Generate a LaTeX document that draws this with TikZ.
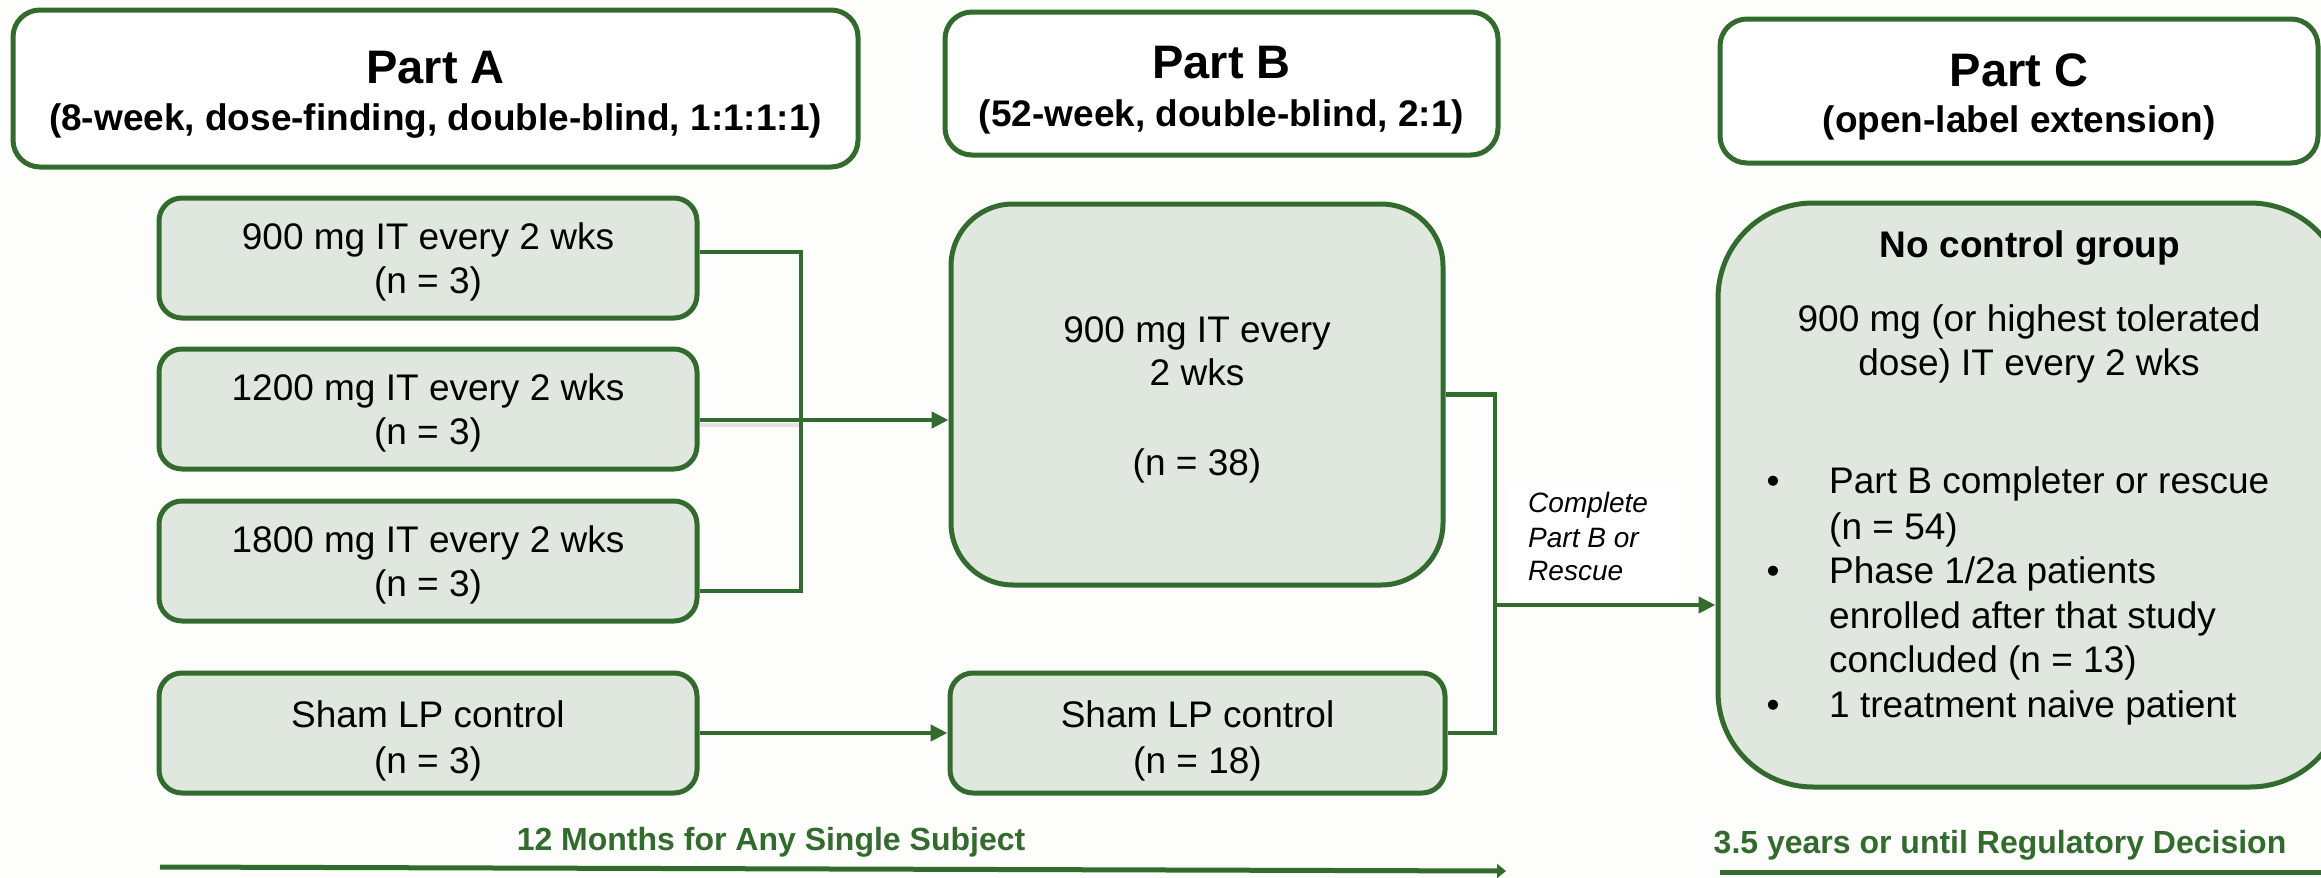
\documentclass[tikz,border=0pt]{standalone}
\usepackage{fontspec}
\setmainfont{Liberation Sans}
\usetikzlibrary{arrows.meta}
\definecolor{frame}{HTML}{336B2F}
\definecolor{boxfill}{HTML}{DFE7DF}
\definecolor{paper}{HTML}{FDFDFB}

\tikzset{
  boxbase/.style={draw=frame, line width=5pt, rectangle, inner sep=0pt},
  header/.style={boxbase, fill=white, rounded corners=27pt},
  arm/.style={boxbase, fill=boxfill, rounded corners=23pt,
              minimum width=538pt, minimum height=120pt},
  bigarm/.style={boxbase, fill=boxfill},
  txt/.style={inner sep=0pt, anchor=base, font=\fontsize{37}{44}\selectfont},
  txtl/.style={txt, anchor=base west},
  ttl/.style={inner sep=0pt, anchor=base, font=\fontsize{47}{56}\selectfont\bfseries},
  sub/.style={inner sep=0pt, anchor=base, font=\fontsize{37}{44}\selectfont\bfseries},
  note/.style={inner sep=0pt, anchor=base west, font=\fontsize{28}{34}\selectfont\itshape},
  span/.style={inner sep=0pt, anchor=base, text=frame, font=\fontsize{32}{38}\selectfont\bfseries},
  conn/.style={draw=frame, line width=4.5pt},
  flow/.style={conn, -{Triangle[length=17pt,width=16pt]}},
  timeline/.style={draw=frame, line width=5pt},
}

\begin{document}
\begin{tikzpicture}[x=1pt, y=-1pt]
  % canvas
  \fill[paper] (0,0) rectangle (2321,878);
  \useasboundingbox (0,0) rectangle (2321,878);

  % ---- headers ----
  \node[header, minimum width=845pt, minimum height=157pt] (hA) at (435.5,88.5) {};
  \node[header, minimum width=553pt, minimum height=143pt] (hB) at (1221.5,83.5) {};
  \node[header, minimum width=598pt, minimum height=144pt] (hC) at (2019,91) {};
  \node[ttl] (hAt) at (435.5,83) {Part A};
  \node[sub] (hAs) at (435.5,130) {(8-week, dose-finding, double-blind, 1:1:1:1)};
  \node[ttl] (hBt) at (1221.5,78) {Part B};
  \node[sub] (hBs) at (1221.5,126) {(52-week, double-blind, 2:1)};
  \node[ttl] (hCt) at (2019,86) {Part C};
  \node[sub] (hCs) at (2019,132) {(open-label extension)};

  % ---- Part A arms ----
  \node[arm] (a900)  at (428,258) {};
  \node[arm] (a1200) at (428,409) {};
  \node[arm] (a1800) at (428,561) {};
  \node[arm] (shA)   at (428,733) {};
  \node[txt] (a900t1)  at (428,249) {900 mg IT every 2 wks};
  \node[txt] (a900t2)  at (428,293) {(n = 3)};
  \node[txt] (a1200t1) at (428,400) {1200 mg IT every 2 wks};
  \node[txt] (a1200t2) at (428,444) {(n = 3)};
  \node[txt] (a1800t1) at (428,552) {1800 mg IT every 2 wks};
  \node[txt] (a1800t2) at (428,596) {(n = 3)};
  \node[txt] (shAt1)   at (428,727) {Sham LP control};
  \node[txt] (shAt2)   at (428,773) {(n = 3)};

  % ---- Part B arms ----
  \node[bigarm, rounded corners=62pt, minimum width=492pt, minimum height=381pt] (pB) at (1197,394.5) {};
  \node[txt] (pBt1) at (1197,342) {900 mg IT every};
  \node[txt] (pBt2) at (1197,385) {2 wks};
  \node[txt] (pBt3) at (1197,475) {(n = 38)};
  \node[arm, minimum width=495pt] (shB) at (1197.5,733) {};
  \node[txt] (shBt1) at (1197.5,727) {Sham LP control};
  \node[txt] (shBt2) at (1197.5,773) {(n = 18)};

  % ---- Part C ----
  \node[bigarm, rounded corners=95pt, minimum width=627pt, minimum height=584pt] (pC) at (2031.5,495) {};
  \node[txt, font=\fontsize{37}{44}\selectfont\bfseries] (pCt0) at (2030,257) {No control group};
  \node[txt] (pCt1) at (2029,331) {900 mg (or highest tolerated};
  \node[txt] (pCt2) at (2029,375) {dose) IT every 2 wks};
  \node[txt] (b1) at (1773,493) {•};
  \node[txt] (b2) at (1773,583) {•};
  \node[txt] (b3) at (1773,717) {•};
  \node[txtl] (pCl1) at (1829,493) {Part B completer or rescue};
  \node[txtl] (pCl2) at (1829,539) {(n = 54)};
  \node[txtl] (pCl3) at (1829,583) {Phase 1/2a patients};
  \node[txtl] (pCl4) at (1829,628) {enrolled after that study};
  \node[txtl] (pCl5) at (1829,672) {concluded (n = 13)};
  \node[txtl] (pCl6) at (1829,717) {1 treatment naive patient};

  % ---- Part A -> Part B connectors ----
  \coordinate (jA) at (801,420);
  \draw[black!30, opacity=0.35, line width=4pt] ([yshift=-16pt]a1200.east) -- ([yshift=-5pt]jA);
  \draw[conn] ([yshift=6pt]a900.east) -| (jA) |- ([yshift=-30pt]a1800.east);
  \draw[flow] ([yshift=-11pt]a1200.east) -- (jA) -- (pB.west |- jA);
  \draw[flow] (shA.east) -- (shB.west);

  % ---- Part B -> Part C connectors ----
  \coordinate (jB) at (1495,605);
  \node[fill=white, inner sep=0pt, minimum width=171pt, minimum height=115pt] (notebg) at (1592.5,540.5) {};
  \node[note] (n1) at (1528,512) {Complete};
  \node[note] (n2) at (1528,547) {Part B or};
  \node[note] (n3) at (1528,580) {Rescue};
  \draw[conn] (pB.east) -| (jB);
  \draw[conn] (shB.east) -| (jB);
  \draw[flow] (jB) -- (pC.west |- jB);

  % ---- timelines ----
  \node[span] (spanAB) at (771,850) {12 Months for Any Single Subject};
  \node[span] (spanC) at (2000,853) {3.5 years or until Regulatory Decision};
  \coordinate (tl0) at (160,867);
  \coordinate (tl1) at (1506,871);
  \draw[timeline, -{Triangle[length=9pt,width=14pt]}] (tl0) -- (tl1);
  \coordinate (tr0) at (1720,872);
  \coordinate (tr1) at (2330,872);
  \draw[timeline] (tr0) -- (tr1);
\end{tikzpicture}
\end{document}
